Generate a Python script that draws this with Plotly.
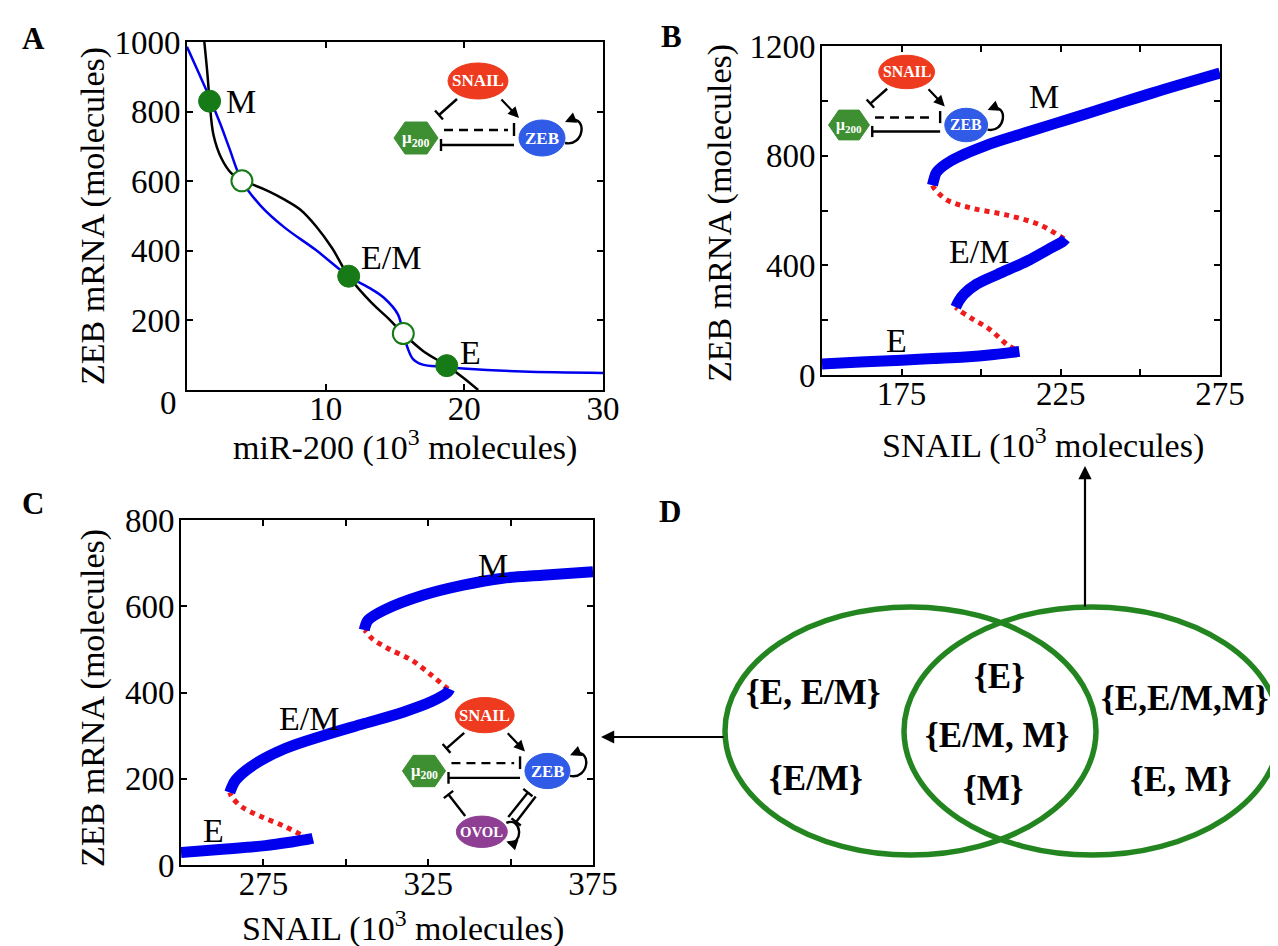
import plotly.graph_objects as go

W, H = 1278, 946
SERIF = "Liberation Serif"

# ---------------- data ----------------
# Panel A: nullclines
a_blue_x = [0, 0.8, 1.6, 2.4, 3.05, 3.96, 5.3, 7.0, 9.3, 11.66, 13.3, 14.2, 15.2, 15.6, 15.9, 16.3, 17.0, 18.4, 19.9, 24.2, 30]
a_blue_y = [986, 915, 843, 765, 695, 601, 530, 468, 402, 327, 290, 265, 218, 162, 122, 89, 73, 67, 62, 53, 49]
a_black_x = [1.25, 1.48, 1.63, 1.91, 2.48, 3.19, 3.96, 4.76, 5.9, 7.04, 8.18, 9.32, 10.46, 11.66, 13.3, 14.46, 15.6, 17.0, 18.73, 19.9, 21.0]
a_black_y = [1000, 905, 830, 733, 666, 623, 601, 590, 571, 547, 518, 470, 408, 327, 251, 208, 162, 113, 70, 36, 0]
a_stable_x = [1.63, 11.66, 18.73]
a_stable_y = [830, 327, 70]
a_unstable_x = [3.96, 15.6]
a_unstable_y = [601, 162]
a_labels = ["M", "E/M", "E"]
a_label_x = [3.9, 14.74, 20.45]
a_label_y = [828, 380, 108]

# Panel B: bifurcation (miR-200/ZEB)
b_E_x = [150, 162, 175, 185, 195, 204, 210, 212]
b_E_y = [40, 47, 54, 60, 66, 75, 83, 86]
b_u1_x = [210.5, 208.4, 202.5, 197.2, 193.2, 192.0]
b_u1_y = [95, 108, 168, 205, 235, 247]
b_EM_x = [192.0, 193.0, 194.6, 198.5, 205.1, 214.3, 220.9, 225.6, 226.5]
b_EM_y = [247, 270, 295, 331, 367, 415, 457, 487, 497]
b_u2_x = [226, 224.9, 218.4, 207.8, 197.2, 189.3, 185.3, 184.7]
b_u2_y = [497, 505, 548, 584, 608, 638, 680, 692]
b_M_x = [184.7, 185.2, 186, 190.6, 201.2, 214.3, 227.5, 240.7, 253.9, 275]
b_M_y = [692, 715, 740, 782, 836, 885, 933, 981, 1029, 1101]
b_label_x = [219.6, 199.2, 173.5]
b_label_y = [1017, 451, 126]

# Panel C: bifurcation (with OVOL)
c_E_x = [250, 263.6, 275.6, 284, 288.8, 290]
c_E_y = [29, 37, 45, 54, 60, 62]
c_u1_x = [289, 287.6, 281.6, 274.4, 268.4, 265.4, 264.8]
c_u1_y = [62, 66, 89, 112, 135, 158, 168]
c_EM_x = [264.8, 265.4, 266.6, 272, 281.6, 293.6, 305.6, 317.6, 326, 330.8, 331.5]
c_EM_y = [168, 180, 197, 232, 270, 301, 328, 355, 379, 400, 408]
c_u2_x = [331, 330.2, 326, 320, 312.8, 308, 306.2, 305.6]
c_u2_y = [408, 413, 440, 475, 502, 525, 541, 545]
c_M_x = [305.6, 306.0, 306.8, 311.6, 323.6, 335.6, 347.6, 359.6, 375]
c_M_y = [545, 556, 568, 591, 626, 649, 665, 672, 680]
c_label_x = [344.6, 288.8, 260]
c_label_y = [695, 340, 81]

# Venn texts
venn_texts = ["{E, E/M}", "{E/M}", "{E}", "{E/M, M}", "{M}", "{E,E/M,M}", "{E, M}"]

# ---------------- helpers ----------------
def px(x):
    return x / W

def py(y):
    return 1 - y / H

BLUE = "#0000ee"
RED = "#ee1c1c"
GREEN = "#167a16"

fig = go.Figure()

# Panel A
fig.add_trace(go.Scatter(x=a_blue_x, y=a_blue_y, mode="lines", line=dict(color=BLUE, width=2.5, shape="spline"),
                         xaxis="x", yaxis="y", showlegend=False))
fig.add_trace(go.Scatter(x=a_black_x, y=a_black_y, mode="lines", line=dict(color="black", width=2.5, shape="spline"),
                         xaxis="x", yaxis="y", showlegend=False))
fig.add_trace(go.Scatter(x=a_stable_x, y=a_stable_y, mode="markers",
                         marker=dict(size=22, color=GREEN, line=dict(color=GREEN, width=1)),
                         xaxis="x", yaxis="y", showlegend=False, cliponaxis=False))
fig.add_trace(go.Scatter(x=a_unstable_x, y=a_unstable_y, mode="markers",
                         marker=dict(size=21, color="white", line=dict(color=GREEN, width=2)),
                         xaxis="x", yaxis="y", showlegend=False))

def branch(xs, ys, ax, ay, stable):
    if stable:
        line = dict(color=BLUE, width=11, shape="spline")
    else:
        line = dict(color=RED, width=5, dash="dot", shape="spline")
    fig.add_trace(go.Scatter(x=xs, y=ys, mode="lines", line=line, xaxis=ax, yaxis=ay, showlegend=False))

for xs, ys, st in [(b_u1_x, b_u1_y, False), (b_u2_x, b_u2_y, False),
                   (b_E_x, b_E_y, True), (b_EM_x, b_EM_y, True), (b_M_x, b_M_y, True)]:
    branch(xs, ys, "x2", "y2", st)
for xs, ys, st in [(c_u1_x, c_u1_y, False), (c_u2_x, c_u2_y, False),
                   (c_E_x, c_E_y, True), (c_EM_x, c_EM_y, True), (c_M_x, c_M_y, True)]:
    branch(xs, ys, "x3", "y3", st)

axis_common = dict(showline=True, linecolor="black", linewidth=2, mirror="ticks", ticks="inside",
                   ticklen=6, tickwidth=1.5, tickcolor="black", showgrid=False, zeroline=False,
                   automargin=False,
                   tickfont=dict(family=SERIF, size=33, color="black"))
xax = dict(ticklabelstandoff=-12, **axis_common)
yax = dict(ticklabelstandoff=-2, **axis_common)

fig.update_layout(
    template="none",
    width=W, height=H, margin=dict(l=0, r=0, t=0, b=0),
    paper_bgcolor="white", plot_bgcolor="white", showlegend=False,
    xaxis=dict(domain=[px(179), px(595)], range=[0, 30], anchor="y",
               tickvals=[0, 10, 20, 30], ticktext=["", "10", "20", "30"], **xax),
    yaxis=dict(domain=[py(382), py(34)], range=[0, 1000], anchor="x",
               tickvals=[0, 200, 400, 600, 800, 1000], ticktext=["", "200", "400", "600", "800", "1000"], **yax),
    xaxis2=dict(domain=[px(814), px(1212)], range=[150, 275], anchor="y2",
                tickvals=[150, 175, 200, 225, 250, 275], ticktext=["", "175", "", "225", "", "275"], **xax),
    yaxis2=dict(domain=[py(367), py(38)], range=[0, 1200], anchor="x2",
                tickvals=[0, 200, 400, 600, 800, 1000, 1200], ticktext=["0", "", "400", "", "800", "", "1200"], **yax),
    xaxis3=dict(domain=[px(173), px(585)], range=[250, 375], anchor="y3",
                tickvals=[250, 275, 300, 325, 350, 375], ticktext=["", "275", "", "325", "", "375"], **xax),
    yaxis3=dict(domain=[py(857), py(512)], range=[0, 800], anchor="x3",
                tickvals=[0, 200, 400, 600, 800], ticktext=["0", "200", "400", "600", "800"], **yax),
)

shapes = []
annotations = []

def txt(x, y, text, size=33, bold=False, color="black", angle=0, xref="paper", yref="paper"):
    t = "<b>" + text + "</b>" if bold else text
    annotations.append(dict(x=x, y=y, xref=xref, yref=yref, text=t, showarrow=False, textangle=angle,
                            xanchor="center", yanchor="middle",
                            font=dict(family=SERIF, size=size, color=color)))

# panel letters
for lab, x, y in [("A", 25, 30), ("B", 663, 28), ("C", 25, 495), ("D", 662, 503)]:
    txt(px(x), py(y), lab, size=31, bold=True)

# axis titles
txt(px(397), py(437), "miR-200 (10<sup>3</sup> molecules)", size=34)
txt(px(85), py(208), "ZEB mRNA (molecules)", size=34, angle=-90)
txt(px(1035), py(435), "SNAIL (10<sup>3</sup> molecules)", size=34)
txt(px(712), py(205), "ZEB mRNA (molecules)", size=34, angle=-90)
txt(px(395), py(918), "SNAIL (10<sup>3</sup> molecules)", size=34)
txt(px(85), py(690), "ZEB mRNA (molecules)", size=34, angle=-90)
txt(px(161), py(395), "0", size=33)

# curve labels
for lab, x, y in zip(a_labels, a_label_x, a_label_y):
    txt(x, y, lab, size=34, xref="x", yref="y")
for lab, x, y in zip(a_labels, b_label_x, b_label_y):
    txt(x, y, lab, size=34, xref="x2", yref="y2")
for lab, x, y in zip(a_labels, c_label_x, c_label_y):
    txt(x, y, lab, size=34, xref="x3", yref="y3")


def line(p0, p1, width=2.4, dash=None):
    d = dict(type="line", xref="paper", yref="paper", x0=p0[0], y0=p0[1], x1=p1[0], y1=p1[1],
             line=dict(color="black", width=width))
    if dash:
        d["line"]["dash"] = dash
    shapes.append(d)


def network(mx, my, s, ovol=False):
    P = lambda dx, dy: (px(mx + dx * s), py(my + dy * s))

    def ell(cx, cy, rx, ry, color):
        shapes.append(dict(type="circle", xref="paper", yref="paper",
                           x0=px(mx + (cx - rx) * s), x1=px(mx + (cx + rx) * s),
                           y0=py(my + (cy + ry) * s), y1=py(my + (cy - ry) * s),
                           fillcolor=color, line=dict(color=color, width=1)))

    def path(pts, closed=False, fill=None):
        s_ = "M " + " L ".join(f"{P(a, b)[0]:.5f},{P(a, b)[1]:.5f}" for a, b in pts)
        if closed:
            s_ += " Z"
        d = dict(type="path", xref="paper", yref="paper", path=s_, line=dict(color=fill or "black", width=1 if fill else 2.4))
        if fill:
            d["fillcolor"] = fill
        shapes.append(d)

    def curve(p0, c1, c2, p1):
        f = lambda q: f"{P(*q)[0]:.5f},{P(*q)[1]:.5f}"
        shapes.append(dict(type="path", xref="paper", yref="paper",
                           path=f"M {f(p0)} C {f(c1)} {f(c2)} {f(p1)}", line=dict(color="black", width=2.4)))

    def arrow(head, tail):
        hx, hy = P(*head)
        annotations.append(dict(x=hx, y=hy, xref="paper", yref="paper", text="", showarrow=True,
                                ax=(tail[0] - head[0]) * s, ay=(tail[1] - head[1]) * s,
                                arrowhead=2, arrowsize=1, arrowwidth=2.2, arrowcolor="black", standoff=0))

    def inhib(p0, p1, bar_half=6):
        line(P(*p0), P(*p1))
        dx, dy = p1[0] - p0[0], p1[1] - p0[1]
        n = (dx * dx + dy * dy) ** 0.5
        ux, uy = -dy / n, dx / n
        line(P(p1[0] - ux * bar_half, p1[1] - uy * bar_half), P(p1[0] + ux * bar_half, p1[1] + uy * bar_half))

    # nodes
    path([(-22, 0), (-11, -16), (11, -16), (22, 0), (11, 16), (-11, 16)], closed=True, fill="#3d8f32")
    ell(62, -57, 30, 18, "#ee3a1e")
    ell(126, 0, 23, 18, "#2f5be6")
    # edges
    inhib((41, -39), (23, -23))
    arrow((103, -20), (84, -40))
    line(P(28, -8), P(92, -8), dash="9px,6px")
    line(P(98, -15), P(98, -2))
    inhib((98, 7), (25, 7))
    curve((149, 5), (168, 9), (172, -22), (154, -18))
    arrow((149, -16), (156, -19))
    # labels
    fs = 17 * s
    txt(*P(62, -57), "SNAIL", size=fs, bold=True, color="white")
    txt(*P(126, 0), "ZEB", size=fs, bold=True, color="white")
    txt(*P(0, 1), "μ<sub>200</sub>", size=fs, bold=True, color="white")
    if ovol:
        ell(59, 62, 26, 16, "#8e3f93")
        txt(*P(59, 62), "OVOL", size=15 * s, bold=True, color="white")
        inhib((42, 46), (25, 24))
        inhib((86, 47), (106, 22))
        inhib((114, 26), (94, 52))
        curve((84, 53), (100, 46), (102, 76), (86, 73))
        arrow((84, 72), (90, 74))


network(408, 130, 1.0)
network(841, 117, 0.93)
network(416, 763, 0.98, ovol=True)

# Panel D: Venn diagram
VENN_GREEN = "#23851f"
shapes.append(dict(type="circle", xref="paper", yref="paper", x0=px(717), x1=px(1088), y0=py(847), y1=py(599),
                   line=dict(color=VENN_GREEN, width=5.5)))
shapes.append(dict(type="circle", xref="paper", yref="paper", x0=px(896), x1=px(1272), y0=py(847), y1=py(599),
                   line=dict(color=VENN_GREEN, width=5.5)))
venn_pos = [(805, 684), (808, 770), (991, 668), (989, 727), (985, 780), (1177, 690), (1172, 771)]
for t, (x, y) in zip(venn_texts, venn_pos):
    txt(px(x), py(y), t, size=35, bold=True)

# arrows from Venn to panels
annotations.append(dict(x=px(1077), y=py(458), xref="paper", yref="paper", text="", showarrow=True,
                        ax=0, ay=142, arrowhead=2, arrowsize=1.2, arrowwidth=2.2, arrowcolor="black", standoff=0))
annotations.append(dict(x=px(593), y=py(729), xref="paper", yref="paper", text="", showarrow=True,
                        ax=124, ay=0, arrowhead=2, arrowsize=1.2, arrowwidth=2.2, arrowcolor="black", standoff=0))

fig.update_layout(shapes=shapes, annotations=annotations)
fig.write_html("out.html")
